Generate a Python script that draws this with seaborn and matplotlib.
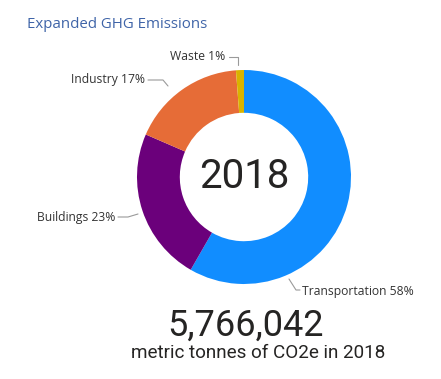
import matplotlib
matplotlib.use("Agg")
import matplotlib.pyplot as plt
import seaborn as sns

# ---- data -------------------------------------------------------------
sectors = ["Transportation", "Buildings", "Industry", "Waste"]
shares = [58.3, 23.2, 17.3, 1.2]
pct_labels = ["58%", "23%", "17%", "1%"]
colors = ["#118DFF", "#6B007B", "#E66C37", "#D9B300"]
year = "2018"
total_tonnes = "5,766,042"
subtitle = "metric tonnes of CO2e in 2018"
title = "Expanded GHG Emissions"

# ---- layout (pixel coords, origin bottom-left) -------------------------
W, H = 441, 379
cx, cy, r = 244, H - 177, 107
ring = 0.40 * r
# label text anchor + leader line points per sector
label_layout = {
    "Transportation": dict(xy=(302, H - 291), ha="left",
                           line=[(289, H - 279), (296, H - 290), (300, H - 290)]),
    "Buildings": dict(xy=(115, H - 217), ha="right",
                      line=[(118, H - 217), (128, H - 217), (138, H - 214)]),
    "Industry": dict(xy=(145, H - 80), ha="right",
                     line=[(148, H - 80), (163, H - 80), (168, H - 86)]),
    "Waste": dict(xy=(225, H - 57), ha="right",
                  line=[(229, H - 57), (238, H - 57), (238, H - 65)]),
}

sns.set_theme(style="white")
plt.rcParams["font.family"] = ["Open Sans", "DejaVu Sans"]

fig = plt.figure(figsize=(W / 100, H / 100), dpi=100)
ax = fig.add_axes([0, 0, 1, 1])

ax.pie(shares, colors=colors, center=(cx, cy), radius=r,
       startangle=90, counterclock=False,
       wedgeprops=dict(width=ring, linewidth=0))
ax.set_xlim(0, W)
ax.set_ylim(0, H)
ax.set_aspect("auto")
ax.axis("off")

for name, pct in zip(sectors, pct_labels):
    lay = label_layout[name]
    xs, ys = zip(*lay["line"])
    ax.plot(xs, ys, color="#9a9a9a", lw=0.8)
    ax.text(lay["xy"][0], lay["xy"][1], f"{name} {pct}", ha=lay["ha"],
            va="center", fontsize=8.7, color="#333333")

ax.text(27, H - 24, title, ha="left", va="center", fontsize=10.8,
        color="#3F64A8")
ax.text(cx, cy, year, ha="center", va="center", fontsize=29,
        color="#252423", family="Roboto")
ax.text(246, H - 326, total_tonnes, ha="center", va="center", fontsize=26,
        color="#252423", family="Roboto")
ax.text(258, H - 353, subtitle, ha="center", va="center", fontsize=13.6,
        color="#252423", family="Roboto")

fig.savefig("out.png", dpi=100)
